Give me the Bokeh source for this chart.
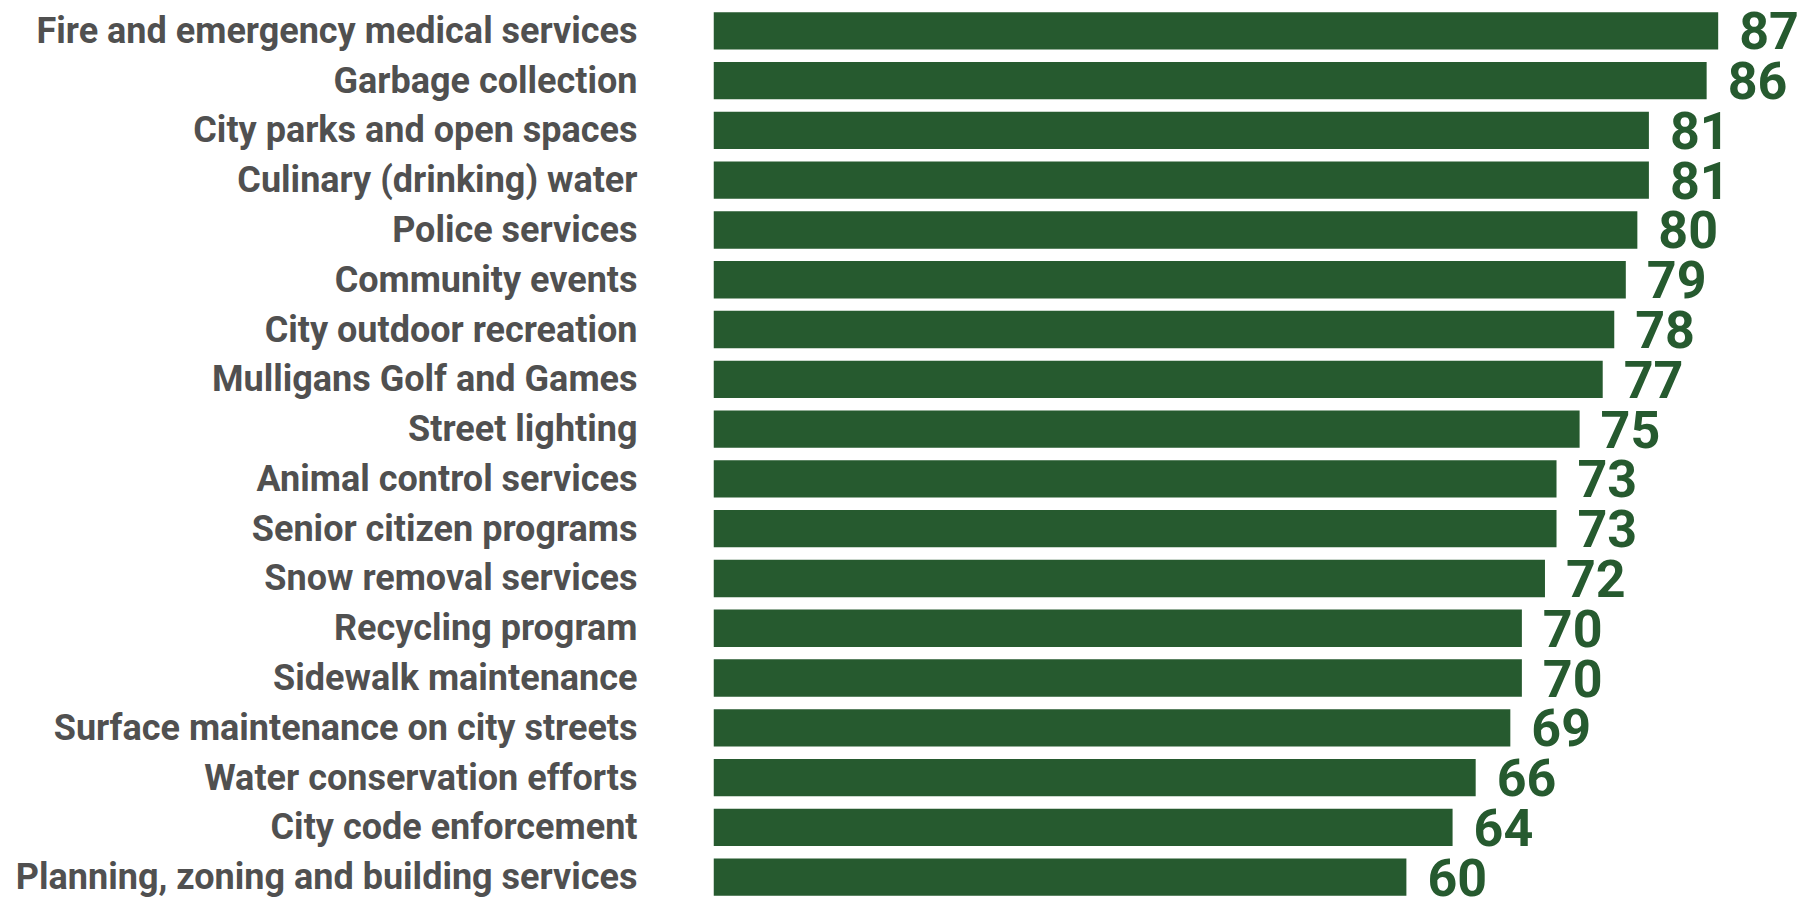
from bokeh.plotting import figure
from bokeh.models import ColumnDataSource, FactorRange, Range1d
from bokeh.core.properties import value
from bokeh.embed import file_html
from bokeh.resources import INLINE

categories = [
    "Fire and emergency medical services",
    "Garbage collection",
    "City parks and open spaces",
    "Culinary (drinking) water",
    "Police services",
    "Community events",
    "City outdoor recreation",
    "Mulligans Golf and Games",
    "Street lighting",
    "Animal control services",
    "Senior citizen programs",
    "Snow removal services",
    "Recycling program",
    "Sidewalk maintenance",
    "Surface maintenance on city streets",
    "Water conservation efforts",
    "City code enforcement",
    "Planning, zoning and building services",
]
scores = [87, 86, 81, 81, 80, 79, 78, 77, 75, 73, 73, 72, 70, 70, 69, 66, 64, 60]
score_labels = [str(s) for s in scores]

GREEN = "#265a2f"
GRAY = "#505050"

source = ColumnDataSource(dict(cat=categories, score=scores, label=score_labels))

y_range = FactorRange(factors=list(reversed(categories)),
                      range_padding=-0.072, range_padding_units="absolute")

p = figure(width=1808, height=898, y_range=y_range, x_range=Range1d(0, 94.82),
           output_backend="svg", toolbar_location=None, x_axis_location=None,
           min_border_left=713, min_border_right=0, min_border_top=9, min_border_bottom=0)

p.hbar(y="cat", right="score", left=0, height=0.75, source=source,
       fill_color=GREEN, line_color=None)

p.text(x="score", y="cat", text="label", source=source, x_offset=21,
       text_baseline="middle", text_align="left",
       text_font=value("Roboto"), text_font_style="bold", text_font_size="52px",
       text_color=GREEN)

ax = p.yaxis[0]
ax.axis_line_color = None
ax.major_tick_line_color = None
ax.minor_tick_line_color = None
ax.major_tick_out = 0
ax.major_tick_in = 0
ax.major_label_standoff = 76
ax.major_label_text_font = "Roboto"
ax.major_label_text_font_style = "bold"
ax.major_label_text_font_size = "36px"
ax.major_label_text_color = GRAY

p.xgrid.grid_line_color = None
p.ygrid.grid_line_color = None
p.outline_line_color = None
p.background_fill_color = "white"
p.border_fill_color = "white"

open("out.html", "w").write(file_html(p, INLINE))
